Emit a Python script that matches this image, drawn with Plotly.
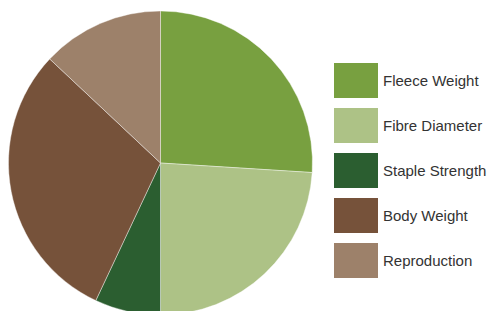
import plotly.graph_objects as go

categories = ["Fleece Weight", "Fibre Diameter", "Staple Strength", "Body Weight", "Reproduction"]
values = [26, 24, 7, 30, 13]
colors = ["#78A040", "#ADC286", "#2B5E30", "#76523A", "#9D816A"]

W, H = 489, 326
fig = go.Figure()

# pie: center (160.5, 163), radius 152
fig.add_trace(go.Pie(
    labels=categories, values=values, sort=False, direction="clockwise", rotation=0,
    marker=dict(colors=colors, line=dict(color="white", width=0.4)),
    textinfo="none", showlegend=False,
    domain=dict(x=[8.5 / W, 312.5 / W], y=[(H - 315) / H, (H - 11) / H]),
))

# legend built as horizontal bars with labels on the right
fig.add_trace(go.Bar(
    y=categories, x=[1] * len(categories), orientation="h",
    marker=dict(color=colors, line=dict(width=0)),
    showlegend=False, hoverinfo="y", xaxis="x", yaxis="y",
))

fig.update_layout(
    width=W, height=H, autosize=False,
    margin=dict(l=0, r=0, t=0, b=0),
    paper_bgcolor="white", plot_bgcolor="white",
    bargap=10 / 45,
    font=dict(family="Liberation Sans, Arial, sans-serif", size=15, color="#333333"),
    xaxis=dict(domain=[334 / W, 378 / W], range=[0, 1], visible=False, fixedrange=True),
    yaxis=dict(domain=[(H - 283) / H, (H - 58) / H], autorange="reversed",
               side="right", showgrid=False, zeroline=False, showline=False,
               ticks="", ticklabelstandoff=4,
               tickfont=dict(size=15, color="#333333"), fixedrange=True),
)

fig.write_html("out.html", config={"displayModeBar": False},
               post_script="document.body.style.margin='0';document.body.style.overflow='hidden';document.documentElement.style.overflow='hidden';")
